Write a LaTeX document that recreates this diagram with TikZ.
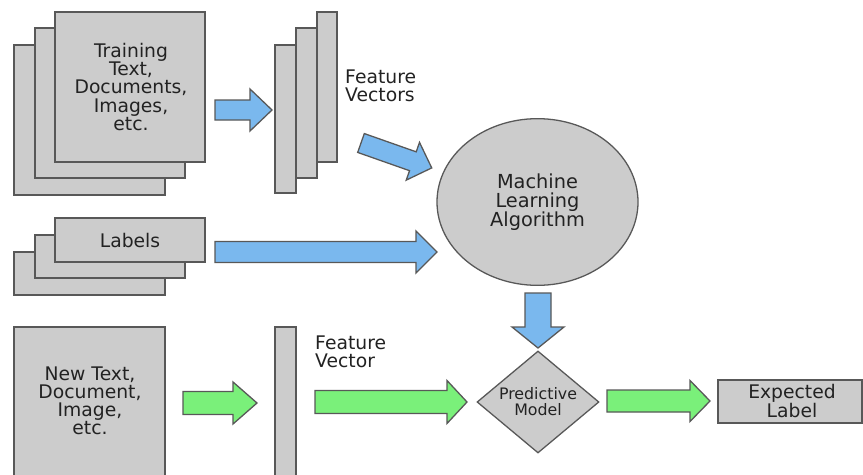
\documentclass[tikz,border=0pt]{standalone}
\usepackage{fontspec}
\setmainfont{DejaVu Sans}
\usetikzlibrary{shapes.geometric,fit}
\definecolor{boxfill}{RGB}{204,204,204}
\definecolor{boxline}{RGB}{88,88,88}
\definecolor{bluefill}{RGB}{122,184,238}
\definecolor{greenfill}{RGB}{122,240,122}
\definecolor{txt}{RGB}{34,34,34}
\newcommand\blockarr[7]{%
  \draw[#1] (#2,{#4-#5}) -- ({#3-#7},{#4-#5}) -- ({#3-#7},{#4-#6}) -- (#3,#4)
    -- ({#3-#7},{#4+#6}) -- ({#3-#7},{#4+#5}) -- (#2,{#4+#5}) -- cycle;}
\begin{document}
\begin{tikzpicture}[x=0.03cm,y=-0.03cm,
  box/.style={draw=boxline,fill=boxfill,line width=1.1pt,inner sep=0pt},
  lbl/.style={text=txt,font=\fontsize{16}{15.5}\selectfont,align=center,inner sep=0pt},
  blue arrow/.style={draw=boxline,fill=bluefill,line width=1.1pt,line join=miter},
  green arrow/.style={draw=boxline,fill=greenfill,line width=1.1pt,line join=miter}]
\useasboundingbox (0,0) rectangle (863,475);
% training stack
\node[box,fit={(14,45)(165,195)}] (tr3) {};
\node[box,fit={(35,28)(185,178)}] (tr2) {};
\node[box,fit={(55,12)(205,162)}] (tr1) {};
\node[lbl] (trtxt) at (131,87) {Training\\Text,\\Documents,\\Images,\\etc.};
% feature vectors stack
\node[box,fit={(275,45)(296,193)}] (fv3) {};
\node[box,fit={(296,28)(317,178)}] (fv2) {};
\node[box,fit={(317,12)(337,162)}] (fv1) {};
\node[lbl,align=left,anchor=west] (fvtxt) at (345,86) {Feature\\Vectors};
% labels stack
\node[box,fit={(14,252)(165,295)}] (lb3) {};
\node[box,fit={(35,235)(185,278)}] (lb2) {};
\node[box,fit={(55,218)(205,262)}] (lb1) {};
\node[lbl] (lbtxt) at (130,241) {Labels};
% ML algorithm
\node[box,ellipse,minimum width=6.03cm,minimum height=5.0cm] (ml) at (537.5,202) {};
\node[lbl,font=\fontsize{16.5}{16.5}\selectfont] (mltxt) at (ml.center) {Machine\\Learning\\Algorithm};
% new text
\node[box,fit={(14,327)(165,480)}] (nt) {};
\node[lbl] (nttxt) at (90,401) {New Text,\\Document,\\Image,\\etc.};
% feature vector
\node[box,fit={(275,327)(296,480)}] (fv) {};
\node[lbl,align=left,anchor=west] (fvvtxt) at (315,352) {Feature\\Vector};
% predictive model
\node[box,diamond,minimum width=3.66cm,minimum height=3.06cm] (pm) at (538,402) {};
\node[lbl,font=\fontsize{13.5}{13.5}\selectfont] (pmtxt) at (pm.center) {Predictive\\Model};
% expected label
\node[box,fit={(718,380)(862,423)}] (el) {};
\node[lbl,font=\fontsize{16}{14.5}\selectfont] (eltxt) at (792,401) {Expected\\Label};
% blue arrows
\blockarr{blue arrow}{215}{272}{110}{10}{21}{22}
\begin{scope}[shift={(361,143)},rotate=-19.4]
\blockarr{blue arrow}{0}{75}{0}{10}{20}{20}
\end{scope}
\blockarr{blue arrow}{215}{437}{252}{10.5}{21}{21}
\begin{scope}[shift={(538,293)},rotate=-90]
\blockarr{blue arrow}{0}{55}{0}{13}{26}{21}
\end{scope}
% green arrows
\blockarr{green arrow}{183}{257}{403}{11.5}{21}{24}
\blockarr{green arrow}{315}{467}{402}{11.5}{21.5}{20}
\blockarr{green arrow}{607}{710}{401}{11}{20.5}{20}
\end{tikzpicture}
\end{document}
